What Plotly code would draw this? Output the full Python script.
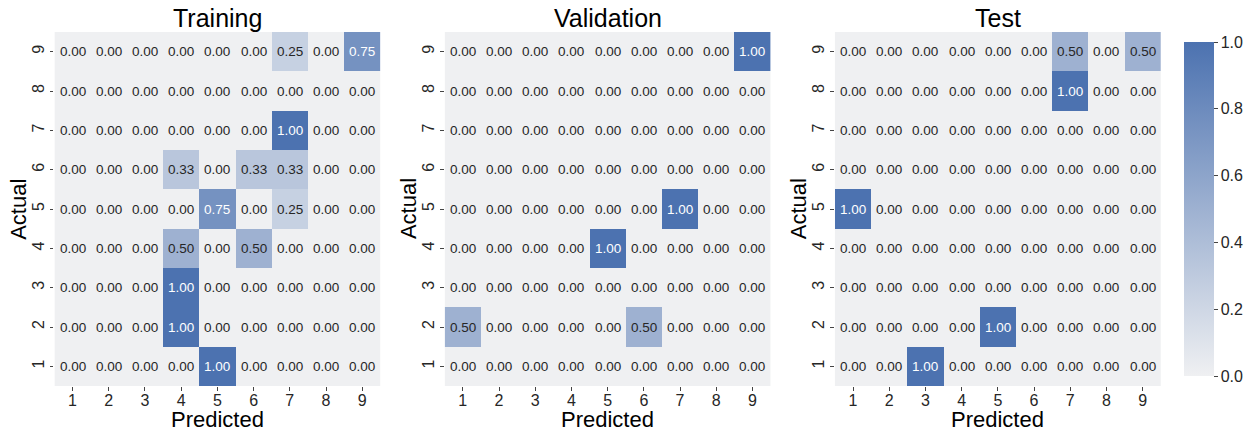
import plotly.graph_objects as go

labels = [1, 2, 3, 4, 5, 6, 7, 8, 9]
titles = ["Training", "Validation", "Test"]
x_title = "Predicted"
y_title = "Actual"

# rows = Actual 1..9 (bottom to top), cols = Predicted 1..9
training = [
    [0, 0, 0, 0, 1.00, 0, 0, 0, 0],
    [0, 0, 0, 1.00, 0, 0, 0, 0, 0],
    [0, 0, 0, 1.00, 0, 0, 0, 0, 0],
    [0, 0, 0, 0.50, 0, 0.50, 0, 0, 0],
    [0, 0, 0, 0, 0.75, 0, 0.25, 0, 0],
    [0, 0, 0, 0.33, 0, 0.33, 0.33, 0, 0],
    [0, 0, 0, 0, 0, 0, 1.00, 0, 0],
    [0, 0, 0, 0, 0, 0, 0, 0, 0],
    [0, 0, 0, 0, 0, 0, 0.25, 0, 0.75],
]
validation = [
    [0, 0, 0, 0, 0, 0, 0, 0, 0],
    [0.50, 0, 0, 0, 0, 0.50, 0, 0, 0],
    [0, 0, 0, 0, 0, 0, 0, 0, 0],
    [0, 0, 0, 0, 1.00, 0, 0, 0, 0],
    [0, 0, 0, 0, 0, 0, 1.00, 0, 0],
    [0, 0, 0, 0, 0, 0, 0, 0, 0],
    [0, 0, 0, 0, 0, 0, 0, 0, 0],
    [0, 0, 0, 0, 0, 0, 0, 0, 0],
    [0, 0, 0, 0, 0, 0, 0, 0, 1.00],
]
test = [
    [0, 0, 1.00, 0, 0, 0, 0, 0, 0],
    [0, 0, 0, 0, 1.00, 0, 0, 0, 0],
    [0, 0, 0, 0, 0, 0, 0, 0, 0],
    [0, 0, 0, 0, 0, 0, 0, 0, 0],
    [1.00, 0, 0, 0, 0, 0, 0, 0, 0],
    [0, 0, 0, 0, 0, 0, 0, 0, 0],
    [0, 0, 0, 0, 0, 0, 0, 0, 0],
    [0, 0, 0, 0, 0, 0, 1.00, 0, 0],
    [0, 0, 0, 0, 0, 0, 0.50, 0, 0.50],
]
matrices = [training, validation, test]

W, H = 1253, 432
LOW = (239, 240, 242)
HIGH = (76, 114, 176)
FONT = "Arial, 'Liberation Sans', sans-serif"
DARK = "#262626"

def interp(v):
    return tuple(LOW[i] + (HIGH[i] - LOW[i]) * v for i in range(3))

def lum(rgb):
    out = []
    for c in rgb:
        c = c / 255
        out.append(c / 12.92 if c <= 0.03928 else ((c + 0.055) / 1.055) ** 2.4)
    return 0.2126 * out[0] + 0.7152 * out[1] + 0.0722 * out[2]

colorscale = [[0, "rgb(%d,%d,%d)" % LOW], [1, "rgb(%d,%d,%d)" % HIGH]]

x_px = [(55, 384), (449, 778), (843, 1172)]
y_top, y_bot = 32, 386
ydom = [1 - y_bot / H, 1 - y_top / H]

fig = go.Figure()
annotations = []
for k, (mat, title) in enumerate(zip(matrices, titles)):
    xa = "x" if k == 0 else "x%d" % (k + 1)
    ya = "y" if k == 0 else "y%d" % (k + 1)
    fig.add_trace(go.Heatmap(
        z=mat, x=labels, y=labels, xaxis=xa, yaxis=ya,
        colorscale=colorscale, zmin=0, zmax=1,
        showscale=(k == 2),
        colorbar=dict(
            thickness=30, thicknessmode="pixels",
            len=(y_bot - y_top) / H, lenmode="fraction",
            x=1185 / W, xanchor="left", y=1 - (y_top + y_bot) / 2 / H, yanchor="middle",
            outlinewidth=0, ticks="outside", ticklen=4, tickwidth=1, tickcolor="#444444",
            tickvals=[0, 0.2, 0.4, 0.6, 0.8, 1.0], tickformat=".1f",
            tickfont=dict(family=FONT, size=16, color=DARK),
        ),
        hoverinfo="skip",
    ))
    for r, row in enumerate(mat):
        for c, v in enumerate(row):
            col = "#ffffff" if lum(interp(v)) <= 0.408 else DARK
            annotations.append(dict(
                x=labels[c], y=labels[r], xref=xa, yref=ya, text="%.2f" % v,
                showarrow=False, font=dict(family=FONT, size=13.5, color=col),
            ))
    x0, x1 = x_px[k]
    annotations.append(dict(
        x=(x0 + x1) / 2 / W, y=1 - 18 / H, xref="paper", yref="paper",
        text=title, showarrow=False, xanchor="center", yanchor="middle",
        font=dict(family=FONT, size=25, color="#000000"),
    ))
    annotations.append(dict(
        x=(x0 + x1) / 2 / W, y=1 - 419 / H, xref="paper", yref="paper",
        text=x_title, showarrow=False, xanchor="center", yanchor="middle",
        font=dict(family=FONT, size=22, color="#000000"),
    ))
    annotations.append(dict(
        x=(x0 - 37) / W, y=1 - (y_top + y_bot) / 2 / H, xref="paper", yref="paper",
        text=y_title, showarrow=False, xanchor="center", yanchor="middle", textangle=-90,
        font=dict(family=FONT, size=22, color="#000000"),
    ))
    axis_common = dict(
        tickmode="array", tickvals=labels, ticktext=[str(v) for v in labels],
        ticks="outside", ticklen=3.5, tickwidth=1, tickcolor="#444444",
        tickfont=dict(family=FONT, size=16, color=DARK),
        showgrid=False, zeroline=False, showline=False, range=[0.5, 9.5],
        automargin=False,
    )
    fig.update_layout(**{
        ("xaxis" if k == 0 else "xaxis%d" % (k + 1)): dict(
            axis_common, domain=[x0 / W, x1 / W], anchor=ya, ticklabelstandoff=-4,
        ),
        ("yaxis" if k == 0 else "yaxis%d" % (k + 1)): dict(
            axis_common, domain=ydom, anchor=xa, tickangle=-90,
        ),
    })

fig.update_layout(
    width=W, height=H, margin=dict(l=0, r=0, t=0, b=0),
    paper_bgcolor="white", plot_bgcolor="white",
    annotations=annotations, showlegend=False,
)
fig.write_html(
    "out.html",
    config={"displayModeBar": False},
    post_script="document.body.style.margin='0';document.body.style.overflow='hidden';",
)
